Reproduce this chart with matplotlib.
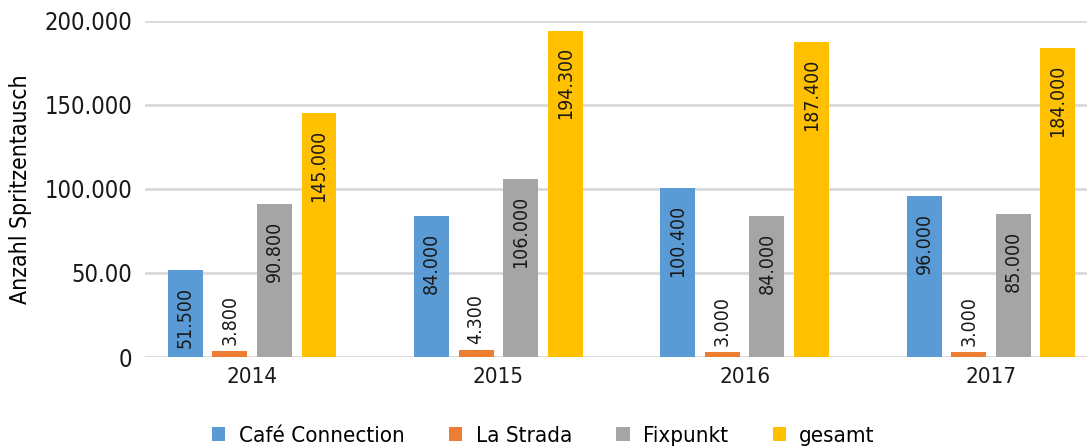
import matplotlib.pyplot as plt
import numpy as np

plt.rcParams['font.family'] = ['DejaVu Sans']
plt.rcParams['font.stretch'] = 'condensed'

# data
years = ['2014', '2015', '2016', '2017']
series = ['Café Connection', 'La Strada', 'Fixpunkt', 'gesamt']
cafe = [51500, 84000, 100400, 96000]
strada = [3800, 4300, 3000, 3000]
fixpunkt = [90800, 106000, 84000, 85000]
gesamt = [145000, 194300, 187400, 184000]
labels = [['51.500', '84.000', '100.400', '96.000'],
          ['3.800', '4.300', '3.000', '3.000'],
          ['90.800', '106.000', '84.000', '85.000'],
          ['145.000', '194.300', '187.400', '184.000']]
yticks = [0, 50000, 100000, 150000, 200000]
ytick_labels = ['0', '50.00', '100.000', '150.000', '200.000']
colors = ['#5B9BD5', '#ED7D31', '#A5A5A5', '#FFC000']

fig = plt.figure(figsize=(10.87, 4.48), dpi=100)
ax = fig.add_axes([145 / 1087, 1 - 357 / 448, 1 - 145 / 1087, 336 / 448])

x = np.arange(len(years))
width = 0.142
step = 0.181
data = [cafe, strada, fixpunkt, gesamt]
for i, vals in enumerate(data):
    pos = x + (i - 1.5) * step
    ax.bar(pos, vals, width, color=colors[i], label=series[i], zorder=3)
    for p, v, lab in zip(pos, vals, labels[i]):
        if v > 20000:
            ax.annotate(lab, (p, v), xytext=(0, -12), textcoords='offset points',
                        rotation=90, ha='center', va='top', fontsize=14, color='#1a1a1a')
        else:
            ax.annotate(lab, (p, v), xytext=(0, 4), textcoords='offset points',
                        rotation=90, ha='center', va='bottom', fontsize=14, color='#1a1a1a')

ax.set_xlim(-0.435, 3.39)
ax.set_ylim(0, 200000)
ax.set_yticks(yticks)
ax.set_yticklabels(ytick_labels, fontsize=17, color='#1a1a1a')
ax.set_xticks(x)
ax.set_xticklabels(years, fontsize=16, color='#1a1a1a')
ax.tick_params(length=0, axis='y', pad=9)
ax.tick_params(length=0, axis='x', pad=7)
ax.grid(axis='y', color='#d9d9d9', linewidth=2, zorder=0)
for s in ax.spines.values():
    s.set_visible(False)
ax.set_ylabel('Anzahl Spritzentausch', fontsize=16.5, color='#000000', labelpad=9)

fig.legend(loc='center', bbox_to_anchor=(0.5, 1 - 436 / 448), ncol=4, frameon=False,
           fontsize=16, handlelength=0.6, handleheight=0.6, columnspacing=2.0,
           handletextpad=0.6)

fig.savefig('out.png', dpi=100)
